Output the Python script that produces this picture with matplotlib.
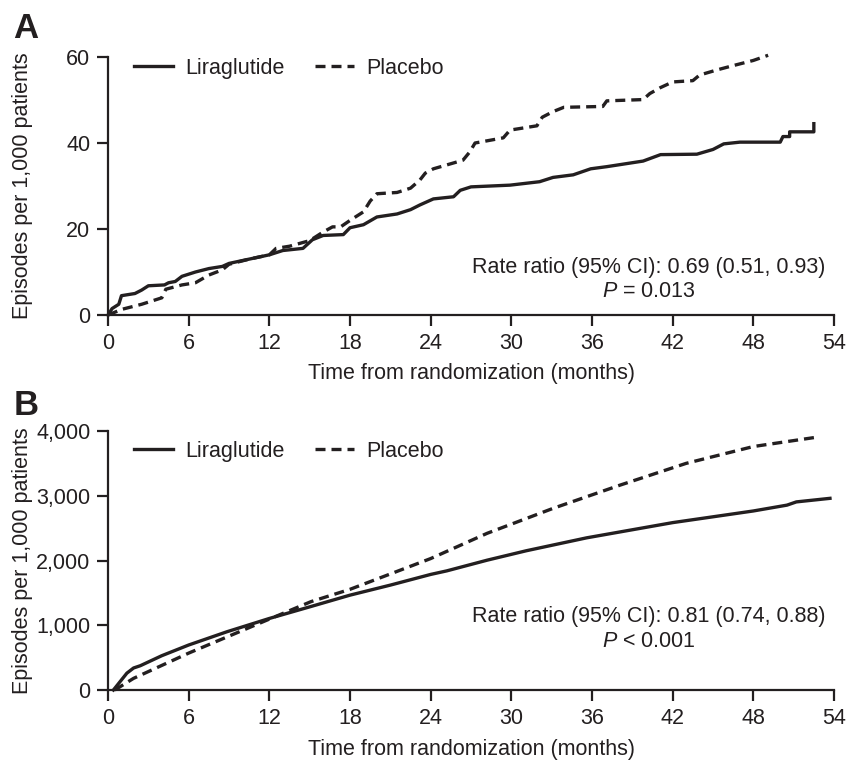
import matplotlib
matplotlib.use("Agg")
import matplotlib.pyplot as plt
from matplotlib.ticker import FuncFormatter

plt.rcParams["font.family"] = ["Liberation Sans", "DejaVu Sans"]
plt.rcParams["mathtext.fontset"] = "custom"
plt.rcParams["mathtext.rm"] = "Liberation Sans"
plt.rcParams["mathtext.it"] = "Liberation Sans:italic"

# Panel A: episodes per 1,000 patients
lira_a_t = [0, 0.3, 0.8, 1.0, 2.0, 2.5, 3.0, 4.2, 4.5, 5.0, 5.5, 6.5, 7.5, 8.5, 9.0,
            10.5, 12.0, 13.0, 14.5, 15.2, 16.0, 17.5, 18.0, 19.0, 20.0, 21.5, 22.5,
            23.2, 24.2, 25.7, 26.2, 27.0, 29.9, 32.1, 33.1, 34.6, 35.9, 37.1, 39.8,
            41.1, 43.8, 45.0, 45.8, 47.0, 50.0, 50.2, 50.7, 50.7, 52.5, 52.5]
lira_a_y = [0, 1.5, 2.5, 4.5, 5.0, 5.8, 6.8, 7.0, 7.5, 7.8, 9.0, 10.0, 10.8, 11.3, 12.0,
            13.0, 14.0, 15.0, 15.5, 17.5, 18.5, 18.7, 20.3, 21.0, 22.8, 23.5, 24.5,
            25.6, 27.0, 27.5, 29.0, 29.8, 30.2, 31.0, 32.0, 32.6, 34.0, 34.5, 35.8,
            37.3, 37.4, 38.5, 39.8, 40.2, 40.2, 41.5, 41.5, 42.6, 42.6, 44.5]

plac_a_t = [0, 1.0, 2.5, 4.0, 4.3, 5.5, 6.5, 7.5, 8.5, 9.0, 10.5, 12.0, 12.5, 13.5,
            15.0, 16.0, 16.7, 17.3, 18.0, 19.0, 19.5, 20.0, 21.5, 22.5, 23.2, 23.6,
            24.2, 26.4, 26.9, 27.3, 29.4, 29.9, 31.9, 32.3, 33.1, 33.9, 36.8, 37.1,
            39.8, 40.3, 41.1, 42.0, 43.5, 44.0, 45.3, 46.5, 48.0, 49.1]
plac_a_y = [0, 1.3, 2.5, 4.0, 6.0, 7.0, 7.5, 9.3, 10.5, 11.8, 13.0, 14.0, 15.5, 16.0,
            17.3, 19.3, 20.5, 20.5, 22.0, 24.0, 26.5, 28.2, 28.5, 29.5, 31.4, 33.0,
            34.0, 36.0, 37.9, 40.0, 41.2, 43.0, 44.0, 46.0, 47.3, 48.3, 48.5, 49.8,
            50.1, 51.5, 52.9, 54.2, 54.5, 55.8, 57.0, 58.0, 59.2, 60.4]

# Panel B
lira_b_t = [0.4, 0.9, 1.4, 1.9, 2.4, 4.0, 6.0, 8.85, 12.0, 15.1, 18.0, 21.0, 24.0,
            25.2, 28.2, 31.1, 35.6, 42.0, 48.0, 50.5, 51.2, 53.7]
lira_b_y = [0, 130, 260, 340, 375, 530, 695, 900, 1105, 1290, 1465, 1620, 1785,
            1840, 2005, 2150, 2350, 2585, 2765, 2855, 2905, 2960]

plac_b_t = [0.5, 1.9, 6.0, 12.0, 15.1, 18.0, 24.0, 28.2, 33.1, 38.1, 43.0, 48.0, 52.9]
plac_b_y = [0, 180, 570, 1095, 1365, 1555, 2030, 2420, 2805, 3165, 3500, 3760, 3910]

x_ticks = list(range(0, 55, 6))
FS = 15.5
LW = 2.4
INK = "#231f20"
DASH = (0, (3.0, 1.8))

fig = plt.figure(figsize=(8.48, 7.6), dpi=100)
ax_a = fig.add_axes([0.1274, 0.5855, 0.8561, 0.3395])
ax_b = fig.add_axes([0.1274, 0.0921, 0.8561, 0.3408])


def style(ax, ylim, yticks, xlab_y):
    ax.set_xlim(0, 54)
    ax.set_ylim(*ylim)
    ax.set_xticks(x_ticks)
    ax.set_yticks(yticks)
    for s in ["top", "right"]:
        ax.spines[s].set_visible(False)
    for s in ["left", "bottom"]:
        ax.spines[s].set_linewidth(1.6)
        ax.spines[s].set_color(INK)
    ax.tick_params(direction="out", length=8.2, width=1.6, labelsize=FS,
                   colors=INK, pad=4.5)
    ax.set_xlabel("Time from randomization (months)", fontsize=FS, color=INK)
    ax.set_ylabel("Episodes per 1,000 patients", fontsize=FS, color=INK)
    ax.xaxis.set_label_coords(0.5, xlab_y)
    ax.yaxis.set_label_coords(-0.103, 0.5)


# Panel A
ax_a.plot(lira_a_t, lira_a_y, color=INK, lw=LW, label="Liraglutide", clip_on=False)
ax_a.plot(plac_a_t, plac_a_y, color=INK, lw=LW, ls=DASH, label="Placebo", clip_on=False)
style(ax_a, (0, 60), [0, 20, 40, 60], -0.186)
ax_a.text(0.7445, 0.186, "Rate ratio (95% CI): 0.69 (0.51, 0.93)", transform=ax_a.transAxes,
          ha="center", va="center", fontsize=FS, color=INK)
ax_a.text(0.7445, 0.093, r"$P$ = 0.013", transform=ax_a.transAxes,
          ha="center", va="center", fontsize=FS, color=INK)

# Panel B
ax_b.plot(lira_b_t, lira_b_y, color=INK, lw=LW, label="Liraglutide", clip_on=False)
ax_b.plot(plac_b_t, plac_b_y, color=INK, lw=LW, ls=DASH, label="Placebo", clip_on=False)
style(ax_b, (0, 4000), [0, 1000, 2000, 3000, 4000], -0.188)
ax_b.yaxis.set_major_formatter(FuncFormatter(lambda v, p: f"{int(v):,}"))
ax_b.text(0.7445, 0.282, "Rate ratio (95% CI): 0.81 (0.74, 0.88)", transform=ax_b.transAxes,
          ha="center", va="center", fontsize=FS, color=INK)
ax_b.text(0.7445, 0.189, r"$P$ < 0.001", transform=ax_b.transAxes,
          ha="center", va="center", fontsize=FS, color=INK)

for ax, ly in ((ax_a, 0.957), (ax_b, 0.921)):
    ax.legend(loc="center left", bbox_to_anchor=(0.036, ly), ncol=2, frameon=False,
              fontsize=FS, handlelength=1.8, handletextpad=0.56, columnspacing=1.44,
              borderpad=0, borderaxespad=0, labelcolor=INK)

fig.text(0.0153, 0.95, "A", fontsize=25, fontweight="bold", color=INK, va="baseline")
fig.text(0.0165, 0.454, "B", fontsize=25, fontweight="bold", color=INK, va="baseline")

fig.savefig("out.png", dpi=100)
